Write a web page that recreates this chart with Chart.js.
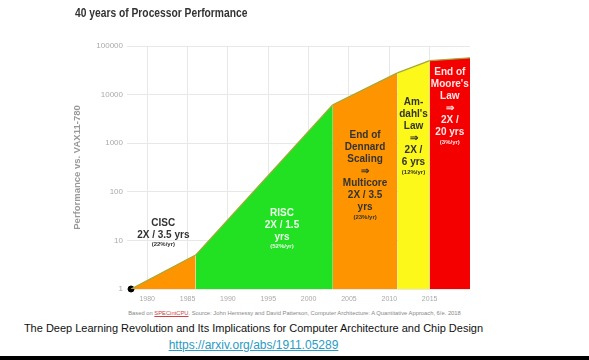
<!DOCTYPE html>
<html>
<head>
<meta charset="utf-8">
<script src="https://cdn.jsdelivr.net/npm/chart.js@4"></script>
<style>
  body { margin: 0; background: #fff; width: 589px; height: 360px; position: relative; overflow: hidden; font-family: "Liberation Sans", Arial, sans-serif; }
  #chart { position: absolute; left: 0; top: 0; }
  .title { position: absolute; left: 75px; top: 5px; font: bold 13px "Liberation Sans", sans-serif; color: #333; transform: scaleX(0.79); transform-origin: left top; white-space: nowrap; }
  .source { position: absolute; left: 0; width: 589px; top: 310px; text-align: center; font-size: 5.8px; color: #888; }
  .source span { color: #c44; text-decoration: underline; }
  .caption { position: absolute; left: 0; width: 507px; top: 322px; text-align: center; font-size: 11px; color: #111; white-space: nowrap; }
  .link { position: absolute; left: 0; width: 507px; top: 338px; text-align: center; font-size: 12px; color: #2a9bc4; text-decoration: underline; }
  .bar { position: absolute; left: 0; top: 356px; width: 589px; height: 4px; background: #000; }
</style>
</head>
<body>
<canvas id="chart" width="589" height="310"></canvas>
<div class="title">40 years of Processor Performance</div>
<div class="source">Based on <span>SPECintCPU</span>. Source: John Hennessy and David Patterson, Computer Architecture: A Quantitative Approach, 6/e. 2018</div>
<div class="caption">The Deep Learning Revolution and Its Implications for Computer Architecture and Chip Design</div>
<div class="link">https://arxiv.org/abs/1911.05289</div>
<div class="bar"></div>
<script>
// era boundaries (year) and performance relative to VAX11-780
const years = [1978, 1986, 2003, 2011, 2015, 2020];
const perf = [1, 5, 6200, 28000, 50000, 57000];
const eraNames = ['CISC', 'RISC', 'Dennard', 'Amdahl', 'Moore'];
const eraText = [
  ['CISC', '2X / 3.5 yrs', '(22%/yr)'],
  ['RISC', '2X / 1.5', 'yrs', '(52%/yr)'],
  ['End of', 'Dennard', 'Scaling', '\u21D2', 'Multicore', '2X / 3.5', 'yrs', '(23%/yr)'],
  ['Am-', 'dahl\'s', 'Law', '\u21D2', '2X /', '6 yrs', '(12%/yr)'],
  ['End of', 'Moore\'s', 'Law', '\u21D2', '2X /', '20 yrs', '(3%/yr)']
];
const xTicks = [1980, 1985, 1990, 1995, 2000, 2005, 2010, 2015];
const yTicks = [1, 10, 100, 1000, 10000, 100000];

const eraColors = ['#fe9400', '#22e022', '#fe9400', '#fbf81a', '#f40000'];
const textColors = ['#333', '#eaffea', '#333', '#333', '#ffe6e6'];
// where each block of text sits: x year, y value of first line
const textAnchor = [[1982, 23], [1996.7, 37], [2007, 1430], [2013, 6840], [2017.5, 28400]];

const datasets = eraNames.map((name, i) => ({
  label: name,
  data: [{ x: years[i], y: perf[i] }, { x: years[i + 1], y: perf[i + 1] }],
  backgroundColor: eraColors[i],
  borderColor: '#a4a838',
  borderWidth: 1.2,
  pointRadius: 0,
  fill: 'start',
  tension: 0
}));
datasets.push({
  label: 'start',
  data: [{ x: years[0], y: perf[0] }],
  pointRadius: 3,
  pointBackgroundColor: '#000',
  pointBorderColor: '#000',
  showLine: false,
  clip: false
});

const eraLabels = {
  id: 'eraLabels',
  afterDatasetsDraw(chart) {
    const { ctx, scales: { x, y } } = chart;
    ctx.save();
    ctx.textAlign = 'center';
    ctx.textBaseline = 'middle';
    eraText.forEach((lines, i) => {
      const px = x.getPixelForValue(textAnchor[i][0]);
      let py = y.getPixelForValue(textAnchor[i][1]);
      ctx.fillStyle = textColors[i];
      lines.forEach((line, j) => {
        const small = line.startsWith('(');
        ctx.font = small ? 'bold 6px "Liberation Sans", sans-serif' : 'bold 10px "Liberation Sans", sans-serif';
        if (small) py -= 2;
        ctx.fillText(line, px, py);
        py += 12;
      });
    });
    ctx.restore();
  }
};

new Chart(document.getElementById('chart'), {
  type: 'line',
  data: { datasets },
  plugins: [eraLabels],
  options: {
    responsive: false,
    animation: false,
    devicePixelRatio: 1,
    layout: { padding: { left: 68, right: 119, top: 46, bottom: 0 } },
    plugins: { legend: { display: false }, tooltip: { enabled: false } },
    scales: {
      x: {
        type: 'linear',
        min: 1977.5,
        max: 2020,
        afterBuildTicks: (s) => { s.ticks = xTicks.map(v => ({ value: v })); },
        afterFit: (s) => { s.height = 21; },
        grid: { color: '#e8e8e8', drawTicks: false },
        border: { display: false },
        ticks: { color: '#aaa', font: { size: 7 }, padding: 6, maxRotation: 0, callback: v => String(v) },
      },
      y: {
        type: 'logarithmic',
        min: 1,
        max: 100000,
        afterBuildTicks: (s) => { s.ticks = yTicks.map(v => ({ value: v })); },
        afterFit: (s) => { s.width = 59; },
        grid: { color: '#e8e8e8', drawTicks: false },
        border: { display: false },
        ticks: { color: '#aaa', font: { size: 8 }, padding: 4, callback: v => String(v) },
        title: { display: true, text: 'Performance vs. VAX11-780', color: '#999', font: { size: 9.5, weight: 'bold' }, padding: { top: 4, bottom: 0 } }
      }
    }
  }
});
</script>
</body>
</html>
